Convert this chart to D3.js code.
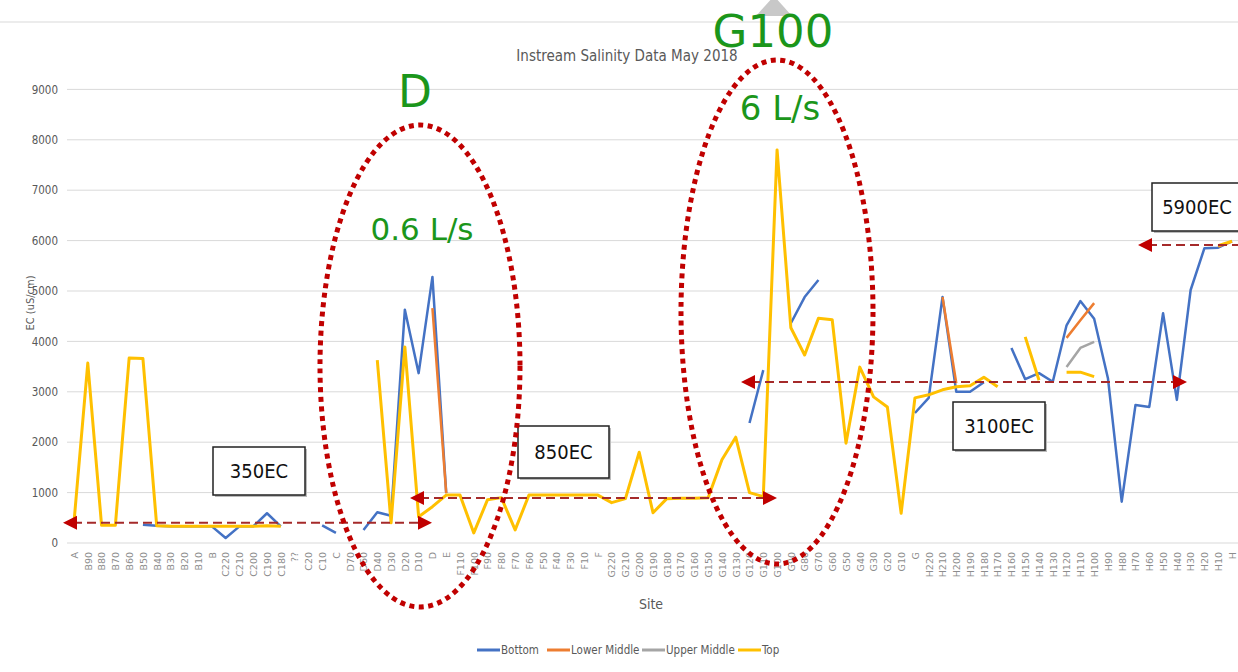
<!DOCTYPE html>
<html>
<head>
<meta charset="utf-8">
<script src="https://cdn.jsdelivr.net/npm/d3@7"></script>
<style>
  body { margin: 0; background: #fff; }
  svg { display: block; }
  .ylab text { font-family: "Liberation Sans Narrow", "DejaVu Sans Condensed", sans-serif; font-size: 11.5px; fill: #595959; }
  .xlab text { font-family: "DejaVu Sans", sans-serif; font-size: 9.5px; fill: #8c8c8c; }
  .narrow { font-family: "Liberation Sans Narrow", "DejaVu Sans Condensed", sans-serif; }
  .green { font-family: "DejaVu Sans", Verdana, sans-serif; fill: #1b961b; }
</style>
</head>
<body>
<div id="chart"></div>
<script>
// sites along the stream, left to right
const sites = ['A','B90','B80','B70','B60','B50','B40','B30','B20','B10','B',
  'C220','C210','C200','C190','C180','??','C20','C10','C',
  'D70','D60','D40','D30','D20','D10','D','E',
  'F110','F100','F90','F80','F70','F60','F50','F40','F30','F10','F',
  'G220','G210','G200','G190','G180','G170','G160','G150','G140','G130','G120','G110','G100',
  'G90','G80','G70','G60','G50','G40','G30','G20','G10','G',
  'H220','H210','H200','H190','H180','H170','H160','H150','H140','H130','H120','H110','H100',
  'H90','H80','H70','H60','H50','H40','H30','H20','H10','H']

const _ = null
// EC (uS/cm) per site, one array per depth
const bottomValues = [_,_,_,_,_,360,340,330,330,330,330,
  100,330,330,590,330,_,_,350,200,
  _,260,610,540,4630,3370,5280,990,
  _,_,_,_,_,_,_,_,_,_,_,
  _,_,_,_,_,_,_,_,_,_,2380,3430,_,
  4360,4880,5220,_,_,_,_,_,_,2580,
  2880,4880,3000,3000,3190,_,3870,3250,3370,3200,4320,4800,4450,
  3270,820,2740,2700,4560,2840,5020,5850,5860,5990]

const lowerMiddleValues = [_,_,_,_,_,_,_,_,_,_,_,
  _,_,_,_,_,_,_,_,_,
  _,_,_,_,_,_,4660,990,
  _,_,_,_,_,_,_,_,_,_,_,
  _,_,_,_,_,_,_,_,_,_,_,_,_,
  _,_,_,_,_,_,_,_,_,_,
  _,4880,3170,_,_,_,_,_,_,_,4070,4420,4760,
  _,_,_,_,_,_,_,_,5880,5980]

const upperMiddleValues = [_,_,_,_,_,_,_,_,_,_,_,
  _,_,_,_,_,_,_,_,_,
  _,_,_,_,_,_,_,_,
  _,_,_,_,_,_,_,_,_,_,_,
  _,_,_,_,_,_,_,_,_,_,_,_,_,
  _,_,_,_,_,_,_,_,_,_,
  _,_,_,_,_,_,_,_,_,_,3490,3870,3990,
  _,_,_,_,_,_,_,_,_,_]

const topValues = [415,3570,350,350,3670,3660,340,330,330,330,330,
  330,330,330,340,330,_,_,_,_,
  _,_,3630,400,3890,520,720,950,
  950,200,860,900,260,950,950,950,950,950,950,
  800,880,1800,600,880,890,890,900,1650,2100,1000,920,7800,
  4270,3730,4460,4430,1980,3490,2900,2700,590,2880,
  2940,3040,3100,3120,3290,3100,_,4090,3230,_,3390,3390,3300,
  _,_,_,_,_,_,_,_,5900,5990]

const seriesNames = ['Bottom', 'Lower Middle', 'Upper Middle', 'Top']
const seriesColors = ['#4472c4', '#ed7d31', '#a5a5a5', '#ffc000']
const seriesData = [bottomValues, lowerMiddleValues, upperMiddleValues, topValues]

const yTicks = [0,1000,2000,3000,4000,5000,6000,7000,8000,9000]

// hand-drawn annotations: EC level arrows
const levelLabels = ['350EC', '850EC', '3100EC', '5900EC']
const levelValues = [400, 893, 3194, 5913]

const dms = { width: 1238, height: 672 }

const svg = d3.select('#chart').append('svg')
    .attr('width', dms.width)
    .attr('height', dms.height)

const x = d3.scalePoint()
    .domain(sites)
    .range([74, 1232])

const y = d3.scaleLinear()
    .domain([0, 9000])
    .range([543, 89.4])

// top strip of the page
svg.append('line')
    .attr('x1', 0).attr('x2', dms.width)
    .attr('y1', 22).attr('y2', 22)
    .attr('stroke', '#d9d9d9')
svg.append('path')
    .attr('d', 'M756,16 L774,-4 L792,16 Z')
    .attr('fill', '#c8c8c8')

// gridlines
svg.append('g').selectAll('line')
    .data(yTicks)
    .join('line')
    .attr('x1', 67)
    .attr('x2', dms.width)
    .attr('y1', d => y(d))
    .attr('y2', d => y(d))
    .attr('stroke', '#d9d9d9')
    .attr('stroke-width', 1)

const yAxis = svg.append('g')
    .attr('class', 'ylab')
    .attr('transform', 'translate(62,0)')
    .call(d3.axisLeft(y).tickValues(yTicks).tickFormat(d3.format('d')).tickSize(0).tickPadding(4))
yAxis.select('.domain').remove()

const xAxis = svg.append('g')
    .attr('class', 'xlab')
    .attr('transform', 'translate(0,551)')
    .call(d3.axisBottom(x).tickSize(0))
xAxis.select('.domain').remove()
xAxis.selectAll('text')
    .attr('transform', 'rotate(-90)')
    .attr('text-anchor', 'end')
    .attr('dy', '0.35em')
    .attr('x', -1)
    .attr('y', 0)

svg.append('text')
    .attr('class', 'narrow')
    .attr('x', 627)
    .attr('y', 61)
    .attr('text-anchor', 'middle')
    .attr('font-size', 15)
    .attr('fill', '#595959')
    .text('Instream Salinity Data May 2018')

svg.append('text')
    .attr('class', 'narrow')
    .attr('transform', 'translate(34,303) rotate(-90)')
    .attr('text-anchor', 'middle')
    .attr('font-size', 11)
    .attr('fill', '#595959')
    .text('EC (uS/cm)')

svg.append('text')
    .attr('class', 'narrow')
    .attr('x', 651)
    .attr('y', 609)
    .attr('text-anchor', 'middle')
    .attr('font-size', 14)
    .attr('fill', '#595959')
    .text('Site')

// series lines
const lineGen = d3.line()
    .defined(d => d != null)
    .x((d, i) => x(sites[i]))
    .y(d => y(d))

svg.append('g').selectAll('path')
    .data(seriesData)
    .join('path')
    .attr('d', d => lineGen(d))
    .attr('fill', 'none')
    .attr('stroke', (d, i) => seriesColors[i])
    .attr('stroke-width', (d, i) => i === 3 ? 3 : 2.5)
    .attr('stroke-linejoin', 'round')

// legend
const legendX = [477, 547, 642, 738]
const legend = svg.append('g').selectAll('g')
    .data(seriesNames)
    .join('g')
    .attr('transform', (d, i) => `translate(${legendX[i]},650)`)
legend.append('line')
    .attr('x1', 0).attr('x2', 23)
    .attr('stroke', (d, i) => seriesColors[i])
    .attr('stroke-width', 3)
legend.append('text')
    .attr('class', 'narrow')
    .attr('x', 24)
    .attr('dy', '0.35em')
    .attr('font-size', 11.5)
    .attr('fill', '#595959')
    .text(d => d)

// annotation layer
const ann = svg.append('g')
const arrowSpans = [[63, 432], [410, 777], [741, 1187], [1138, 1250]]
const boxes = [[213, 447, 92, 48], [518, 426, 91, 52], [953, 402, 92, 48], [1152, 183, 90, 48]]

arrowSpans.forEach((s, i) => {
  const yy = y(levelValues[i])
  ann.append('line')
      .attr('x1', s[0] + 10).attr('x2', s[1] - 10)
      .attr('y1', yy).attr('y2', yy)
      .attr('stroke', '#a52a2a')
      .attr('stroke-width', 2)
      .attr('stroke-dasharray', '9,5')
  ann.append('path')
      .attr('d', `M${s[0]},${yy} L${s[0] + 14},${yy - 7} L${s[0] + 14},${yy + 7} Z`)
      .attr('fill', '#c00000')
  if (s[1] < dms.width) {
    ann.append('path')
        .attr('d', `M${s[1]},${yy} L${s[1] - 14},${yy - 7} L${s[1] - 14},${yy + 7} Z`)
        .attr('fill', '#c00000')
  }
})

boxes.forEach((b, i) => {
  ann.append('rect')
      .attr('x', b[0] + 2).attr('y', b[1] + 2)
      .attr('width', b[2]).attr('height', b[3])
      .attr('fill', '#bbb')
  ann.append('rect')
      .attr('x', b[0]).attr('y', b[1])
      .attr('width', b[2]).attr('height', b[3])
      .attr('fill', '#fff')
      .attr('stroke', '#222')
      .attr('stroke-width', 1.5)
  ann.append('text')
      .attr('class', 'narrow')
      .attr('x', b[0] + b[2] / 2)
      .attr('y', b[1] + b[3] / 2)
      .attr('dy', '0.36em')
      .attr('text-anchor', 'middle')
      .attr('font-size', 20)
      .attr('fill', '#111')
      .text(levelLabels[i])
})

// dotted ellipses around D and G100
const ellipses = [[420, 366, 100, 241], [777, 312, 96, 252]]
ann.selectAll('ellipse')
    .data(ellipses)
    .join('ellipse')
    .attr('cx', d => d[0]).attr('cy', d => d[1])
    .attr('rx', d => d[2]).attr('ry', d => d[3])
    .attr('fill', 'none')
    .attr('stroke', '#c00000')
    .attr('stroke-width', 5)
    .attr('stroke-dasharray', '5,4.5')

const greenText = [['D', 415, 107, 44], ['0.6 L/s', 422, 240, 31], ['G100', 773, 47, 45], ['6 L/s', 780, 120, 34]]
ann.selectAll('text.green')
    .data(greenText)
    .join('text')
    .attr('class', 'green')
    .attr('x', d => d[1]).attr('y', d => d[2])
    .attr('text-anchor', 'middle')
    .attr('font-size', d => d[3])
    .text(d => d[0])
</script>
</body>
</html>
